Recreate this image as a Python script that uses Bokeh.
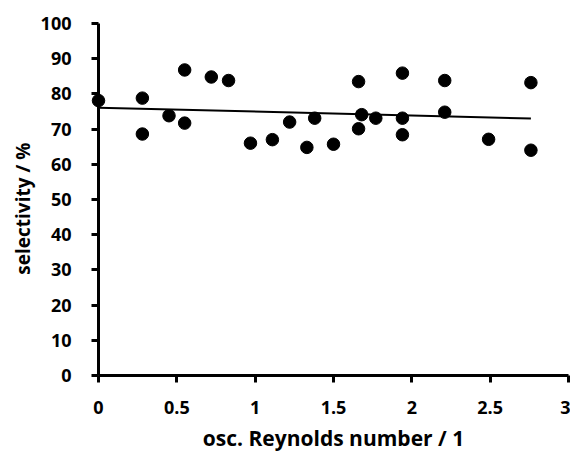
import math
from bokeh.plotting import figure
from bokeh.models import Range1d, FixedTicker
from bokeh.core.properties import value
from bokeh.embed import file_html
from bokeh.resources import INLINE

# data
re_osc = [0.0, 0.28, 0.28, 0.45, 0.55, 0.55, 0.72, 0.83, 0.97, 1.11, 1.22,
          1.33, 1.38, 1.50, 1.66, 1.66, 1.68, 1.77, 1.94, 1.94, 1.94,
          2.21, 2.21, 2.49, 2.76, 2.76]
selectivity = [78.1, 78.8, 68.6, 73.8, 86.8, 71.7, 84.8, 83.8, 66.0, 67.0, 72.0,
               64.8, 73.1, 65.7, 83.5, 70.1, 74.1, 73.1, 85.9, 73.1, 68.4,
               83.8, 74.8, 67.1, 83.2, 64.0]
trend_x = [0.0, 2.76]
trend_y = [76.1, 73.0]
x_ticks = [0, 0.5, 1, 1.5, 2, 2.5, 3]
y_ticks = [0, 10, 20, 30, 40, 50, 60, 70, 80, 90, 100]
x_title = "osc. Reynolds number / 1"
y_title = "selectivity / %"

FONT = "Open Sans"

p = figure(width=570, height=453, output_backend="svg", toolbar_location=None,
           x_range=Range1d(0, 3), y_range=Range1d(0, 100),
           min_border_left=98, min_border_right=2, min_border_top=23, min_border_bottom=78)
p.outline_line_color = None
p.xgrid.visible = False
p.ygrid.visible = False

p.line(trend_x, trend_y, line_color="black", line_width=2)
r = p.scatter(re_osc, selectivity, size=12.5, fill_color="black", line_color="black")
r.level = "overlay"

for ax in (p.xaxis[0], p.yaxis[0]):
    ax.axis_line_color = "black"
    ax.axis_line_width = 3
    ax.major_tick_line_color = "black"
    ax.major_tick_line_width = 3
    ax.major_tick_out = 7
    ax.major_tick_in = 0
    ax.minor_tick_line_color = None
    ax.major_label_text_font = FONT
    ax.major_label_text_font_style = "bold"
    ax.major_label_text_font_size = "18px"
    ax.major_label_text_color = "black"

p.xaxis[0].ticker = FixedTicker(ticks=x_ticks)
p.yaxis[0].ticker = FixedTicker(ticks=y_ticks)
p.xaxis[0].major_label_overrides = {0: "0", 0.5: "0.5", 1: "1", 1.5: "1.5", 2: "2", 2.5: "2.5", 3: "3"}
p.xaxis[0].major_label_standoff = 18
p.yaxis[0].major_label_standoff = 20

tx = p.text(x=[1.5], y=[-17.8], text=[x_title], text_align="center",
            text_baseline="middle", text_font=value(FONT), text_font_style="bold",
            text_font_size="21px", text_color="black")
tx.level = "overlay"

ty = p.text(x=[-0.483], y=[47.4], text=[y_title], text_align="center",
            text_baseline="middle", angle=math.pi / 2, text_font=value(FONT),
            text_font_style="bold", text_font_size="19px", text_color="black")
ty.level = "overlay"

open("out.html", "w").write(file_html(p, INLINE))
